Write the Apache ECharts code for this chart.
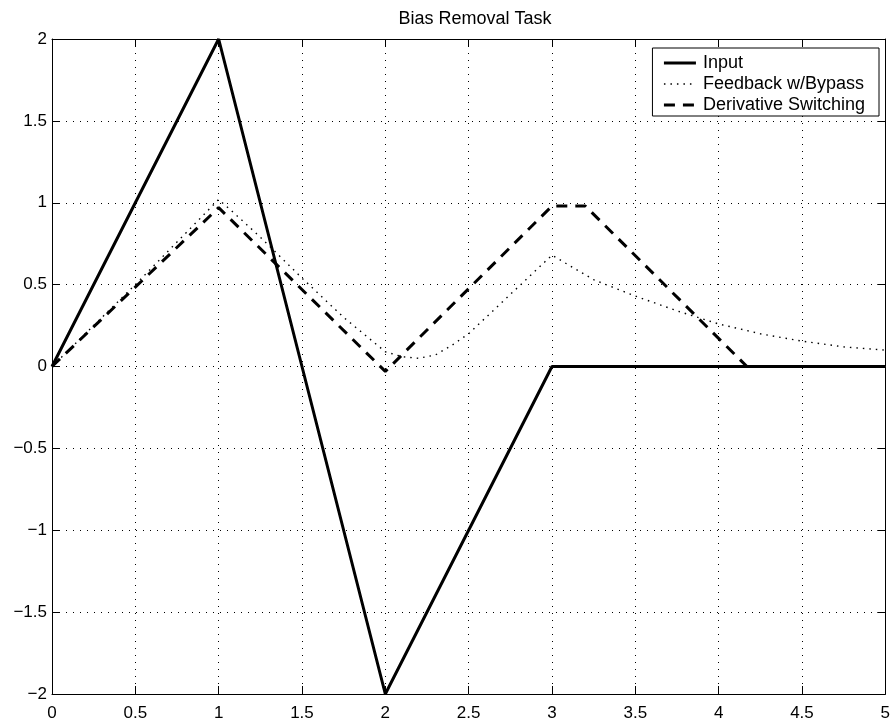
<!DOCTYPE html>
<html>
<head>
<meta charset="utf-8">
<script src="https://cdn.jsdelivr.net/npm/echarts@6/dist/echarts.min.js"></script>
<style>
  html, body { margin: 0; padding: 0; background: #fff; }
  #chart { width: 893px; height: 722px; }
</style>
</head>
<body>
<div id="chart"></div>
<script>
// Input signal: triangle wave that settles at zero
const inputX = [0, 1, 2, 3, 5];
const inputY = [0, 2, -2, 0, 0];

// Feedback with bypass response
const feedbackX = [0, 0.25, 0.5, 0.75, 1, 1.1, 1.25, 1.5, 1.75, 2, 2.1, 2.2, 2.3, 2.4, 2.5, 2.75, 3, 3.1, 3.25, 3.5, 3.75, 4, 4.25, 4.5, 4.75, 5];
const feedbackY = [0, 0.25, 0.5, 0.76, 1.02, 0.93, 0.79, 0.54, 0.3, 0.09, 0.06, 0.05, 0.07, 0.13, 0.2, 0.44, 0.68, 0.62, 0.53, 0.43, 0.34, 0.26, 0.2, 0.155, 0.12, 0.1];

// Derivative switching response
const derivX = [0, 1, 2, 3, 3.2, 4.17, 5];
const derivY = [0, 0.97, -0.03, 0.98, 0.98, 0, 0];

// Axis tick settings
const xTickStep = 0.5;
const yTickStep = 0.5;

const seriesNames = ['Input', 'Feedback w/Bypass', 'Derivative Switching'];

const pairs = (xs, ys) => xs.map((x, i) => [x, ys[i]]);
const fmtMinus = v => String(v).replace('-', '\u2212');
const font = 'Liberation Sans, Arial, Helvetica, sans-serif';

// Line styles shared by the series and their legend entries
const styles = [
  { color: '#000', width: 3, type: 'solid' },
  { color: '#000', width: 1.4, type: [1.5, 5] },
  { color: '#000', width: 3, type: [11, 8] }
];

const chart = echarts.init(document.getElementById('chart'), null, { renderer: 'canvas' });

const baseAxis = {
  axisLine: { show: true, onZero: false, lineStyle: { color: '#000', width: 1 } },
  axisTick: { show: true, inside: true, length: 8, lineStyle: { color: '#000', width: 1 } },
};

const gridDots = [1, 6];

chart.setOption({
  animation: false,
  backgroundColor: '#fff',
  title: {
    text: 'Bias Removal Task',
    left: 470, top: 5, textAlign: 'center',
    textStyle: { fontFamily: font, fontSize: 18, fontWeight: 'normal', color: '#000' }
  },
  grid: { left: 52, right: 7, top: 39, bottom: 27, containLabel: false },
  legend: {
    data: seriesNames.map((n, i) => ({ name: n, lineStyle: styles[i] })),
    orient: 'vertical',
    right: 14, top: 48,
    itemWidth: 32, itemHeight: 14, itemGap: 3,
    padding: [6, 14, 2, 10],
    backgroundColor: '#fff',
    borderColor: '#000', borderWidth: 1, borderRadius: 0,
    itemStyle: { opacity: 0 },
    textStyle: { fontFamily: font, fontSize: 18, lineHeight: 18, color: '#000', padding: [0, 0, 0, 2] }
  },
  xAxis: [
    Object.assign({}, baseAxis, {
      type: 'value', min: 0, max: 5, interval: xTickStep, position: 'bottom',
      axisLabel: { fontFamily: font, fontSize: 17, color: '#000', margin: 11, formatter: fmtMinus },
      splitLine: { show: true, lineStyle: { color: '#000', width: 1, type: gridDots } }
    }),
    Object.assign({}, baseAxis, {
      type: 'value', min: 0, max: 5, interval: xTickStep, position: 'top',
      axisLabel: { show: false }, splitLine: { show: false }
    })
  ],
  yAxis: [
    Object.assign({}, baseAxis, {
      type: 'value', min: -2, max: 2, interval: yTickStep, position: 'left',
      axisLabel: { fontFamily: font, fontSize: 17, color: '#000', margin: 5, formatter: fmtMinus },
      splitLine: { show: true, lineStyle: { color: '#000', width: 1, type: gridDots } }
    }),
    Object.assign({}, baseAxis, {
      type: 'value', min: -2, max: 2, interval: yTickStep, position: 'right',
      axisLabel: { show: false }, splitLine: { show: false }
    })
  ],
  series: [
    {
      name: seriesNames[0], type: 'line', data: pairs(inputX, inputY),
      symbol: 'none', z: 5, itemStyle: { color: '#000' }, lineStyle: styles[0]
    },
    {
      name: seriesNames[1], type: 'line', data: pairs(feedbackX, feedbackY),
      symbol: 'none', z: 3, itemStyle: { color: '#000' }, lineStyle: styles[1]
    },
    {
      name: seriesNames[2], type: 'line', data: pairs(derivX, derivY),
      symbol: 'none', z: 4, itemStyle: { color: '#000' }, lineStyle: styles[2]
    }
  ]
});
</script>
</body>
</html>
